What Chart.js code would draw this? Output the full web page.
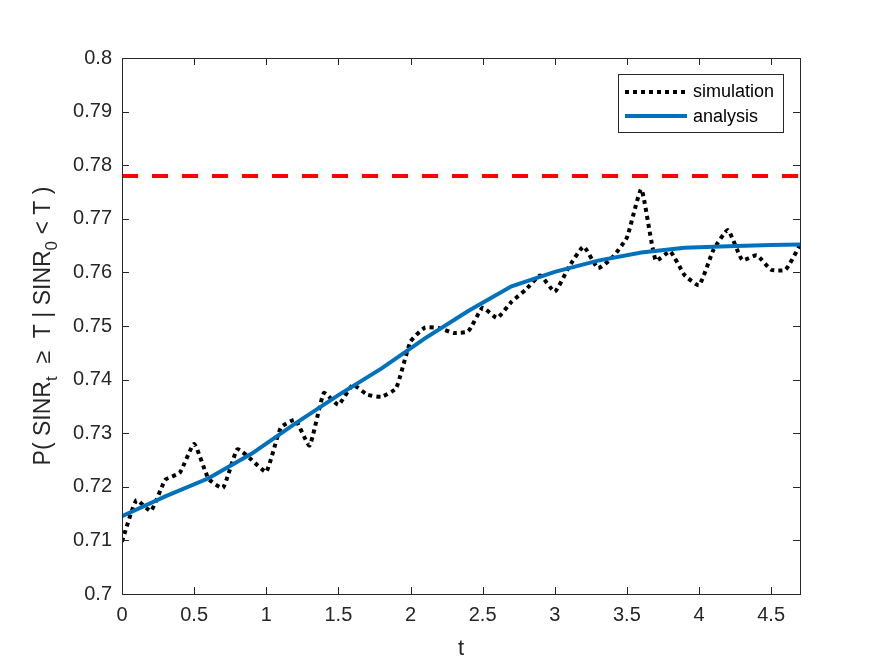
<!DOCTYPE html>
<html lang="en">
<head>
<meta charset="UTF-8">
<title>Conditional SINR coverage</title>
<script src="https://cdn.jsdelivr.net/npm/chart.js"></script>
<style>
  body { margin: 0; background: #fff; }
</style>
</head>
<body>
<canvas id="chart" width="875" height="657"></canvas>
<script>
// simulation samples (t step 0.1)
const simT = [0, 0.1, 0.2, 0.3, 0.4, 0.5, 0.6, 0.7, 0.8, 0.9,
  1.0, 1.1, 1.2, 1.3, 1.4, 1.5, 1.6, 1.7, 1.8, 1.9,
  2.0, 2.1, 2.2, 2.3, 2.4, 2.5, 2.6, 2.7, 2.8, 2.9,
  3.0, 3.1, 3.2, 3.3, 3.4, 3.5, 3.6, 3.7, 3.8, 3.9,
  4.0, 4.1, 4.2, 4.3, 4.4, 4.5, 4.6, 4.7];
const simValues = [0.7098, 0.7175, 0.7155, 0.7213, 0.7226, 0.7280, 0.7215, 0.7198, 0.7270, 0.7250,
  0.7228, 0.7310, 0.7325, 0.7277, 0.7375, 0.7353, 0.7390, 0.7372, 0.7368, 0.7384,
  0.7471, 0.7497, 0.7496, 0.7487, 0.7490, 0.7534, 0.7515, 0.7545, 0.7568, 0.7594,
  0.7564, 0.7611, 0.7648, 0.7608, 0.7628, 0.7665, 0.7755, 0.7622, 0.7639, 0.7595,
  0.7576, 0.7642, 0.7679, 0.7623, 0.7632, 0.7605, 0.7605, 0.7651];

// analytical curve
const anaT = [0, 0.3, 0.6, 0.9, 1.2, 1.5, 1.8, 2.1, 2.4, 2.7, 3.0, 3.3, 3.6, 3.9, 4.2, 4.5, 4.7];
const anaValues = [0.7145, 0.7182, 0.7216, 0.7262, 0.7318, 0.7371, 0.7421, 0.7477, 0.7528, 0.7574,
  0.7601, 0.7622, 0.7637, 0.7646, 0.7649, 0.7651, 0.7652];

// upper bound (red dashed)
const boundT = [0, 4.7];
const boundValue = 0.778;

const xTicks = [0, 0.5, 1, 1.5, 2, 2.5, 3, 3.5, 4, 4.5];
const yTicks = [0.7, 0.71, 0.72, 0.73, 0.74, 0.75, 0.76, 0.77, 0.78, 0.79, 0.8];

const axisColor = '#262626';
const fontFamily = '"Liberation Sans", Arial, Helvetica, sans-serif';

function toPoints(xs, ys) {
  return xs.map((x, i) => ({ x: x, y: Array.isArray(ys) ? ys[i] : ys }));
}

// inward ticks on all four sides, full box, axis labels and legend
const matlabAxes = {
  id: 'matlabAxes',
  afterDraw(chart) {
    const ctx = chart.ctx;
    const a = chart.chartArea;
    const xs = chart.scales.x, ys = chart.scales.y;
    const len = 7;
    ctx.save();
    ctx.strokeStyle = axisColor;
    ctx.lineWidth = 1;
    ctx.beginPath();
    xTicks.forEach(v => {
      const px = Math.round(xs.getPixelForValue(v)) + 0.5;
      ctx.moveTo(px, a.bottom); ctx.lineTo(px, a.bottom - len);
      ctx.moveTo(px, a.top); ctx.lineTo(px, a.top + len);
    });
    yTicks.forEach(v => {
      const py = Math.round(ys.getPixelForValue(v)) + 0.5;
      ctx.moveTo(a.left, py); ctx.lineTo(a.left + len, py);
      ctx.moveTo(a.right, py); ctx.lineTo(a.right - len, py);
    });
    ctx.stroke();
    ctx.strokeRect(Math.round(a.left) + 0.5, Math.round(a.top) + 0.5,
      Math.round(a.right - a.left), Math.round(a.bottom - a.top));

    // x label
    ctx.fillStyle = axisColor;
    ctx.font = '22px ' + fontFamily;
    ctx.textAlign = 'center';
    ctx.textBaseline = 'alphabetic';
    ctx.fillText('t', (a.left + a.right) / 2, 655);

    // y label with subscripts
    const parts = [
      { t: 'P( SINR', sub: false },
      { t: 't', sub: true },
      { t: '  \u2265  T | SINR', sub: false },
      { t: '0', sub: true },
      { t: ' < T )', sub: false }
    ];
    const mainFont = '23px ' + fontFamily;
    const subFont = '17px ' + fontFamily;
    let total = 0;
    parts.forEach(p => { ctx.font = p.sub ? subFont : mainFont; p.w = ctx.measureText(p.t).width; total += p.w; });
    ctx.translate(50, (a.top + a.bottom) / 2);
    ctx.rotate(-Math.PI / 2);
    ctx.textAlign = 'left';
    let cx = -total / 2;
    parts.forEach(p => {
      ctx.font = p.sub ? subFont : mainFont;
      ctx.fillText(p.t, cx, p.sub ? 7 : 0);
      cx += p.w;
    });
    ctx.restore();

    // legend
    ctx.save();
    ctx.fillStyle = '#fff';
    ctx.fillRect(618.5, 74.5, 165, 58);
    ctx.strokeStyle = axisColor;
    ctx.lineWidth = 1;
    ctx.strokeRect(618.5, 74.5, 165, 58);
    ctx.lineWidth = 4;
    ctx.strokeStyle = '#000';
    ctx.setLineDash([4, 4]);
    ctx.beginPath(); ctx.moveTo(625, 92); ctx.lineTo(688, 92); ctx.stroke();
    ctx.setLineDash([]);
    ctx.strokeStyle = '#0072BD';
    ctx.beginPath(); ctx.moveTo(625, 116); ctx.lineTo(687, 116); ctx.stroke();
    ctx.fillStyle = '#000';
    ctx.font = '18px ' + fontFamily;
    ctx.textBaseline = 'middle';
    ctx.textAlign = 'left';
    ctx.fillText('simulation', 693, 92);
    ctx.fillText('analysis', 693, 117);
    ctx.restore();
  }
};

new Chart(document.getElementById('chart'), {
  type: 'line',
  data: {
    datasets: [
      {
        label: 'analysis',
        data: toPoints(anaT, anaValues),
        borderColor: '#0072BD',
        borderWidth: 4,
        pointRadius: 0,
        tension: 0,
        order: 1
      },
      {
        label: 'simulation',
        data: toPoints(simT, simValues),
        borderColor: '#000000',
        borderWidth: 4,
        borderDash: [4, 4],
        pointRadius: 0,
        tension: 0.15,
        order: 2
      },
      {
        label: 'bound',
        data: toPoints(boundT, boundValue),
        borderColor: '#FF0000',
        borderWidth: 4,
        borderDash: [16, 14],
        pointRadius: 0,
        order: 3
      }
    ]
  },
  options: {
    responsive: false,
    animation: false,
    layout: { padding: { left: 0, right: 75, top: 58, bottom: 0 } },
    plugins: { legend: { display: false }, tooltip: { enabled: false } },
    scales: {
      x: {
        type: 'linear',
        min: 0,
        max: 4.7,
        grid: { display: false, drawTicks: false },
        border: { display: false },
        afterBuildTicks: s => { s.ticks = xTicks.map(v => ({ value: v })); },
        afterFit: s => { s.height = 63; },
        ticks: {
          color: axisColor,
          padding: 9,
          maxRotation: 0,
          autoSkip: false,
          font: { family: fontFamily, size: 20 },
          callback: v => String(+v.toFixed(1))
        }
      },
      y: {
        type: 'linear',
        min: 0.7,
        max: 0.8,
        grid: { display: false, drawTicks: false },
        border: { display: false },
        afterBuildTicks: s => { s.ticks = yTicks.map(v => ({ value: v })); },
        afterFit: s => { s.width = 122; },
        ticks: {
          color: axisColor,
          padding: 10,
          autoSkip: false,
          font: { family: fontFamily, size: 20 },
          callback: v => String(+v.toFixed(2))
        }
      }
    }
  },
  plugins: [matlabAxes]
});
</script>
</body>
</html>
